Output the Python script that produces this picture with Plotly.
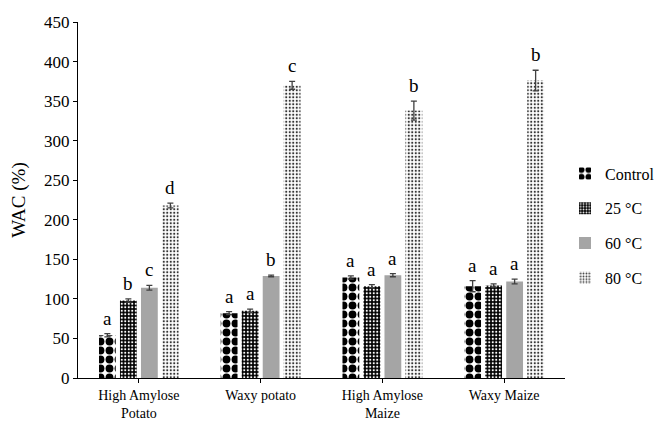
import plotly.graph_objects as go

categories = ["High Amylose<br>Potato", "Waxy potato", "High Amylose<br>Maize", "Waxy Maize"]
series_names = ["Control", "25 °C", "60 °C", "80 °C"]
values = {
    "Control": [54, 82, 127, 116],
    "25 °C": [98, 85, 116, 117],
    "60 °C": [114, 129, 130, 122],
    "80 °C": [218, 370, 338, 376],
}
errors = {
    "Control": [2, 2, 2, 7],
    "25 °C": [2, 2, 2, 2],
    "60 °C": [3, 1, 2, 3],
    "80 °C": [3, 5, 12, 13],
}
letters = {
    "Control": ["a", "a", "a", "a"],
    "25 °C": ["b", "a", "a", "a"],
    "60 °C": ["c", "b", "a", "a"],
    "80 °C": ["d", "c", "b", "b"],
}
y_ticks = [0, 50, 100, 150, 200, 250, 300, 350, 400, 450]

FONT = "Liberation Serif, Times New Roman, serif"
bargap = 0.31
bargroupgap = 0.2

patterns = {
    "Control": dict(shape=".", fgcolor="black", bgcolor="white", size=9, solidity=0.6, fillmode="replace"),
    "25 °C": dict(shape=".", fgcolor="white", bgcolor="black", size=3.5, solidity=0.3, fillmode="replace"),
    "60 °C": None,
    "80 °C": dict(shape=".", fgcolor="#333333", bgcolor="white", size=3.5, solidity=0.3, fillmode="replace"),
}
colors = {"Control": "white", "25 °C": "black", "60 °C": "#a5a5a5", "80 °C": "white"}

fig = go.Figure()
for i, name in enumerate(series_names):
    marker = dict(color=colors[name], line=dict(width=0))
    if patterns[name]:
        marker["pattern"] = patterns[name]
    fig.add_trace(go.Bar(
        name=name, x=categories, y=values[name], marker=marker,
        legendgroup=name,
        error_y=dict(type="data", array=errors[name], visible=True,
                     color="#404040", thickness=1.3, width=3),
    ))

slot = (1 - bargap) / len(series_names)
annotations = []
for i, name in enumerate(series_names):
    for j, cat in enumerate(categories):
        annotations.append(dict(
            x=j + (i - 1.5) * slot, y=values[name][j] + errors[name][j],
            xref="x", yref="y", text=letters[name][j], showarrow=False,
            yanchor="bottom", yshift=3,
            font=dict(family=FONT, size=19, color="black"),
        ))

fig.update_layout(
    width=664, height=414,
    margin=dict(l=70, r=92, t=14, b=44),
    paper_bgcolor="white", plot_bgcolor="white",
    barmode="group", bargap=bargap, bargroupgap=bargroupgap,
    font=dict(family=FONT, size=16, color="black"),
    annotations=annotations,
    legend=dict(x=1.0, xanchor="left", y=0.427, yanchor="middle",
                font=dict(family=FONT, size=16), tracegroupgap=11,
                itemwidth=30),
    showlegend=True,
)
fig.update_xaxes(
    range=[-0.5, 3.5], showline=True, linecolor="black", linewidth=1.2,
    ticks="outside", ticklen=4, tickcolor="black", automargin=False,
    tickfont=dict(family=FONT, size=14), showgrid=False,
)
fig.update_yaxes(
    range=[0, 450], tickvals=y_ticks, showline=True, linecolor="black", linewidth=1.2,
    ticks="outside", ticklen=4, tickcolor="black", showgrid=False, automargin=False,
    tickfont=dict(family=FONT, size=17),
    title=dict(text="WAC (%)", font=dict(family=FONT, size=19)),
    zeroline=False,
)
fig.write_html("out.html")
